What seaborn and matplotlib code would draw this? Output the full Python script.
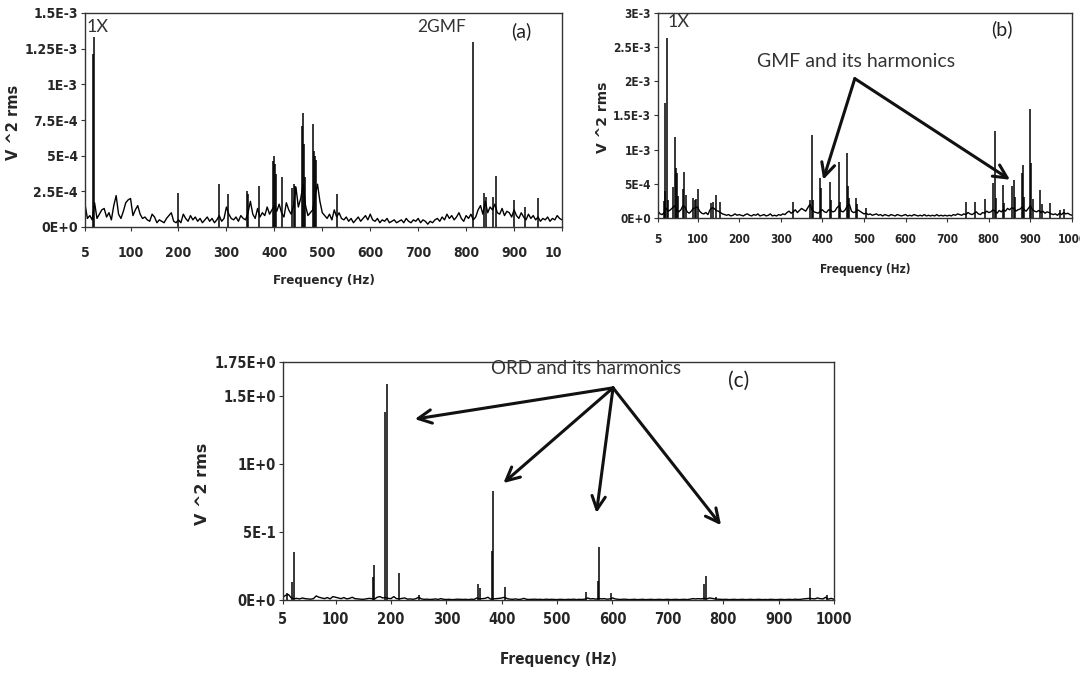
#!/usr/bin/env python3
"""
Vibration spectra of the gearbox: (a) healthy, (b) gear fault, (c) bearing ORD fault.
"""

import numpy as np
import pandas as pd
import matplotlib
matplotlib.use("Agg")
import matplotlib.pyplot as plt
import seaborn as sns
from matplotlib import font_manager
from matplotlib.transforms import Bbox, TransformedBbox

sns.set_style("ticks")
plt.rcParams['font.family'] = ['DejaVu Sans']

# frequency bins of the noise floor (Hz)
freq_bins = np.arange(5, 1001, 5)

# ---- panel (a): noise floor and peaks, units of 1e-5 V^2 rms
noise_a = [16, 6, 8, 5, 17, 6, 9, 12, 13, 7,
           10, 5, 15, 22, 9, 6, 11, 17, 19, 20,
           8, 12, 15, 9, 6, 7, 5, 4, 9, 7,
           3, 5, 4, 3, 6, 8, 10, 4, 3, 5,
           3, 9, 6, 4, 8, 5, 7, 4, 6, 3,
           5, 7, 4, 6, 3, 5, 8, 4, 6, 14,
           9, 6, 5, 7, 4, 8, 6, 5, 10, 18,
           9, 6, 13, 7, 10, 8, 14, 9, 12, 15,
           11, 16, 10, 7, 17, 12, 9, 15, 28, 14,
           20, 30, 15, 8, 10, 12, 22, 30, 18, 10,
           8, 6, 9, 5, 12, 7, 10, 6, 5, 7,
           4, 6, 3, 5, 7, 4, 6, 8, 5, 9,
           5, 4, 6, 3, 5, 4, 6, 3, 4, 5,
           3, 4, 5, 3, 6, 4, 3, 5, 4, 6,
           3, 5, 4, 2, 4, 3, 5, 6, 4, 7,
           5, 9, 6, 8, 5, 7, 10, 6, 4, 8,
           6, 9, 5, 7, 12, 15, 9, 18, 10, 14,
           12, 16, 10, 9, 13, 8, 11, 10, 7, 12,
           8, 6, 10, 7, 5, 9, 6, 8, 5, 7,
           4, 6, 5, 7, 4, 6, 5, 8, 6, 5]
peak_freq_a = [22, 24, 200, 285, 303, 343, 346, 368, 397, 399, 401, 403, 415,
               437, 441, 444, 458, 460, 462, 464, 481, 483, 485, 487, 530,
               815, 838, 842, 857, 863, 900, 922, 949]
peak_val_a = [121, 133, 24, 30, 23, 25, 23, 29, 46, 50, 44, 37, 35,
              27, 30, 29, 71, 80, 58, 35, 72, 53, 50, 47, 23,
              130, 24, 21, 21, 36, 19, 14, 20]

# ---- panel (b): noise floor and peaks, units of 1e-5 V^2 rms
noise_b = [10, 6, 5, 8, 14, 10, 12, 15, 18, 12,
           9, 12, 18, 16, 9, 7, 10, 14, 15, 16,
           10, 7, 6, 8, 5, 12, 15, 14, 11, 10,
           8, 6, 5, 4, 5, 3, 4, 6, 4, 5,
           4, 3, 5, 6, 4, 3, 5, 4, 6, 3,
           4, 5, 3, 4, 6, 3, 4, 3, 5, 4,
           6, 5, 8, 10, 7, 9, 12, 8, 11, 14,
           12, 10, 15, 20, 12, 9, 8, 7, 10, 12,
           9, 8, 12, 11, 9, 10, 15, 18, 10, 9,
           12, 18, 20, 10, 8, 9, 12, 10, 8, 6,
           7, 5, 6, 4, 5, 6, 4, 5, 3, 5,
           4, 3, 5, 4, 3, 5, 4, 3, 4, 5,
           3, 4, 3, 5, 4, 3, 4, 3, 5, 3,
           4, 3, 4, 3, 5, 3, 4, 3, 4, 3,
           4, 3, 5, 4, 6, 5, 4, 6, 5, 8,
           6, 5, 7, 9, 6, 5, 8, 7, 10, 8,
           9, 12, 10, 7, 11, 9, 12, 10, 14, 12,
           15, 14, 10, 12, 13, 16, 12, 10, 14, 18,
           12, 10, 9, 11, 8, 10, 7, 9, 8, 6,
           5, 6, 4, 7, 5, 8, 6, 7, 5, 4]
peak_freq_b = [19, 21, 23, 26, 29, 41, 45, 48, 51, 54, 65, 68, 72, 89, 93, 97, 102,
               133, 137, 145, 153, 330, 370, 374, 377, 394, 396, 418, 420, 440, 442,
               460, 462, 465, 481, 484, 506, 746, 767, 791, 811, 814, 817, 834, 837,
               856, 860, 863, 880, 882, 885, 900, 902, 906, 924, 927, 948, 972, 980]
peak_val_b = [25, 39, 169, 263, 27, 46, 118, 73, 66, 32, 43, 67, 34, 29, 27, 28, 42,
              22, 24, 34, 24, 24, 27, 121, 27, 59, 44, 52, 27, 82, 24,
              95, 47, 29, 29, 21, 15, 23, 24, 28, 51, 127, 29, 49, 22,
              47, 56, 30, 66, 78, 30, 160, 81, 28, 41, 20, 22, 12, 13]

# ---- panel (c): noise floor and peaks, units of 1e-3 V^2 rms
noise_c = [20, 35, 40, 15, 10, 12, 8, 15, 10, 8,
           6, 10, 30, 20, 15, 10, 18, 8, 25, 20,
           15, 10, 18, 8, 12, 20, 10, 8, 6, 5,
           8, 12, 10, 6, 20, 25, 15, 18, 12, 10,
           25, 10, 8, 12, 15, 6, 8, 5, 10, 20,
           8, 5, 6, 4, 5, 8, 4, 10, 5, 4,
           5, 3, 4, 6, 5, 4, 5, 3, 6, 4,
           15, 8, 10, 12, 20, 6, 8, 10, 12, 15,
           20, 10, 6, 5, 8, 4, 6, 12, 5, 4,
           5, 6, 4, 5, 3, 6, 4, 5, 4, 3,
           5, 4, 3, 5, 4, 6, 3, 5, 4, 6,
           15, 8, 10, 6, 12, 8, 10, 6, 8, 15,
           8, 5, 4, 6, 5, 3, 4, 5, 3, 4,
           5, 3, 4, 5, 3, 4, 5, 3, 4, 5,
           3, 4, 5, 3, 4, 5, 3, 6, 10, 8,
           10, 8, 12, 8, 15, 12, 8, 6, 5, 4,
           5, 3, 4, 5, 3, 4, 5, 3, 4, 5,
           3, 4, 5, 3, 4, 3, 5, 4, 3, 4,
           5, 3, 4, 5, 3, 6, 4, 5, 8, 10,
           12, 10, 8, 15, 10, 8, 20, 6, 12, 5]
peak_freq_c = [12, 21, 24, 167, 169, 190, 192, 214, 250, 358, 360, 383, 384, 406,
               552, 574, 576, 598, 766, 768, 787, 957, 987]
peak_val_c = [50, 135, 355, 170, 260, 1385, 1585, 200, 40, 118, 90,
              360, 800, 93, 60, 140, 387, 50, 120, 177, 20, 86, 35]

x_ticks = [5, 100, 200, 300, 400, 500, 600, 700, 800, 900, 1000]
yticks_a = [0, 2.5e-4, 5e-4, 7.5e-4, 1e-3, 1.25e-3, 1.5e-3]
ylabels_a = ['0E+0', '2.5E-4', '5E-4', '7.5E-4', '1E-3', '1.25E-3', '1.5E-3']
yticks_b = [0, 5e-4, 1e-3, 1.5e-3, 2e-3, 2.5e-3, 3e-3]
ylabels_b = ['0E+0', '5E-4', '1E-3', '1.5E-3', '2E-3', '2.5E-3', '3E-3']
yticks_c = [0, 0.5, 1.0, 1.5, 1.75]
ylabels_c = ['0E+0', '5E-1', '1E+0', '1.5E+0', '1.75E+0']

NOTE_FONT = ['Lato', 'DejaVu Sans']

# condensed bold face for the axis numbers, if one is installed
TICK_FONT = dict(family='DejaVu Sans', weight='bold')
SIZE_FACTOR = 0.82
for fam, stretch in [('Liberation Sans Narrow', 'normal'), ('DejaVu Sans', 'condensed')]:
    try:
        path = font_manager.findfont(font_manager.FontProperties(
            family=fam, weight='bold', stretch=stretch), fallback_to_default=False)
    except Exception:
        continue
    if 'Narrow' in path or 'Condensed' in path:
        TICK_FONT = dict(family=fam, weight='bold', stretch=stretch)
        SIZE_FACTOR = 1.0
        break


def draw_spectrum(ax, noise, peak_f, peak_v, unit, yticks, ylabels, tick_size,
                  xlabel_size, ylabel_size, xpad, label_pos, xlabel_pos):
    df = pd.DataFrame({'freq': freq_bins, 'amp': np.array(noise) * unit})
    sns.lineplot(data=df, x='freq', y='amp', ax=ax, color='black', lw=1.0)
    ax.vlines(peak_f, 0, np.array(peak_v) * unit, color='black', lw=1.1)

    ax.set_xlim(5, 1000)
    ax.set_ylim(0, yticks[-1])
    ax.set_xticks(x_ticks)
    ax.set_xticklabels([str(t) for t in x_ticks], fontsize=tick_size * SIZE_FACTOR,
                       **TICK_FONT)
    ax.set_yticks(yticks)
    ax.set_yticklabels(ylabels, fontsize=tick_size * SIZE_FACTOR, **TICK_FONT)
    ax.tick_params(axis='both', length=3, width=0.8, pad=2, color='#333333')
    ax.tick_params(axis='x', pad=xpad)
    for sp in ax.spines.values():
        sp.set_visible(True)
        sp.set_color('#333333')
        sp.set_linewidth(1.0)

    ax.set_ylabel('V ^2 rms', fontsize=ylabel_size, fontweight='heavy',
                  family=['DejaVu Sans'])
    ax.yaxis.set_label_coords(*label_pos)
    ax.set_xlabel('Frequency (Hz)', fontsize=xlabel_size * SIZE_FACTOR, **TICK_FONT)
    ax.xaxis.set_label_coords(*xlabel_pos)


fig = plt.figure(figsize=(10.8, 6.75), dpi=100)
W, H = 1080, 675
ax_a = fig.add_axes([85 / W, 1 - 227 / H, 477 / W, 214 / H])
ax_b = fig.add_axes([658 / W, 1 - 218 / H, 414 / W, 205 / H])
ax_c = fig.add_axes([283 / W, 1 - 600 / H, 551 / W, 238 / H])

draw_spectrum(ax_a, noise_a, peak_freq_a, peak_val_a, 1e-5, yticks_a, ylabels_a,
              10, 9.5, 10.5, 11, (-0.134, 0.49), (0.5, -0.22))
draw_spectrum(ax_b, noise_b, peak_freq_b, peak_val_b, 1e-5, yticks_b, ylabels_b,
              8.5, 8.5, 10, 8, (-0.116, 0.49), (0.5, -0.22))
draw_spectrum(ax_c, noise_c, peak_freq_c, peak_val_c, 1e-3, yticks_c, ylabels_c,
              10.5, 11, 11.5, 6, (-0.132, 0.49), (0.5, -0.22))

# panel (a) is cropped at its right edge in the original figure
clip = TransformedBbox(Bbox.from_extents(0, 0, 562 / W, 1), fig.transFigure)
for lab in ax_a.get_xticklabels():
    lab.set_clip_box(clip)
    lab.set_clip_on(True)

# annotations (a)
ax_a.text(8, 1.40e-3, '1X', fontsize=13, family=NOTE_FONT, color='#333333', va='center')
ax_a.text(748, 1.40e-3, '2GMF', fontsize=12.5, family=NOTE_FONT, color='#333333',
          va='center', ha='center')
ax_a.text(915, 1.37e-3, '(a)', fontsize=14, family=NOTE_FONT, color='#222222',
          va='center', ha='center')

# annotations (b)
ax_b.text(27, 2.87e-3, '1X', fontsize=13, family=NOTE_FONT, color='#333333', va='center')
ax_b.text(832, 2.76e-3, '(b)', fontsize=14, family=NOTE_FONT, color='#222222',
          va='center', ha='center')
ax_b.text(481, 2.29e-3, 'GMF and its harmonics', fontsize=14, family=NOTE_FONT,
          color='#333333', va='center', ha='center')
for hx, hy in [(402, 5.6e-4), (851, 5.6e-4)]:
    ax_b.annotate('', xy=(hx, hy), xytext=(478, 2.04e-3),
                  arrowprops=dict(arrowstyle='->', color='#111111', lw=2.2,
                                  mutation_scale=24, shrinkA=0, shrinkB=0))

# annotations (c)
ax_c.text(827, 1.61, '(c)', fontsize=15, family=NOTE_FONT, color='#222222',
          va='center', ha='center')
ax_c.text(553, 1.70, 'ORD and its harmonics', fontsize=13.5, family=NOTE_FONT,
          color='#333333', va='center', ha='center')
for hx, hy in [(243, 1.33), (403, 0.86), (571, 0.64), (796, 0.55)]:
    ax_c.annotate('', xy=(hx, hy), xytext=(601, 1.56),
                  arrowprops=dict(arrowstyle='->', color='#111111', lw=2.2,
                                  mutation_scale=24, shrinkA=0, shrinkB=0))

fig.savefig('out.png', dpi=100, facecolor='white')
